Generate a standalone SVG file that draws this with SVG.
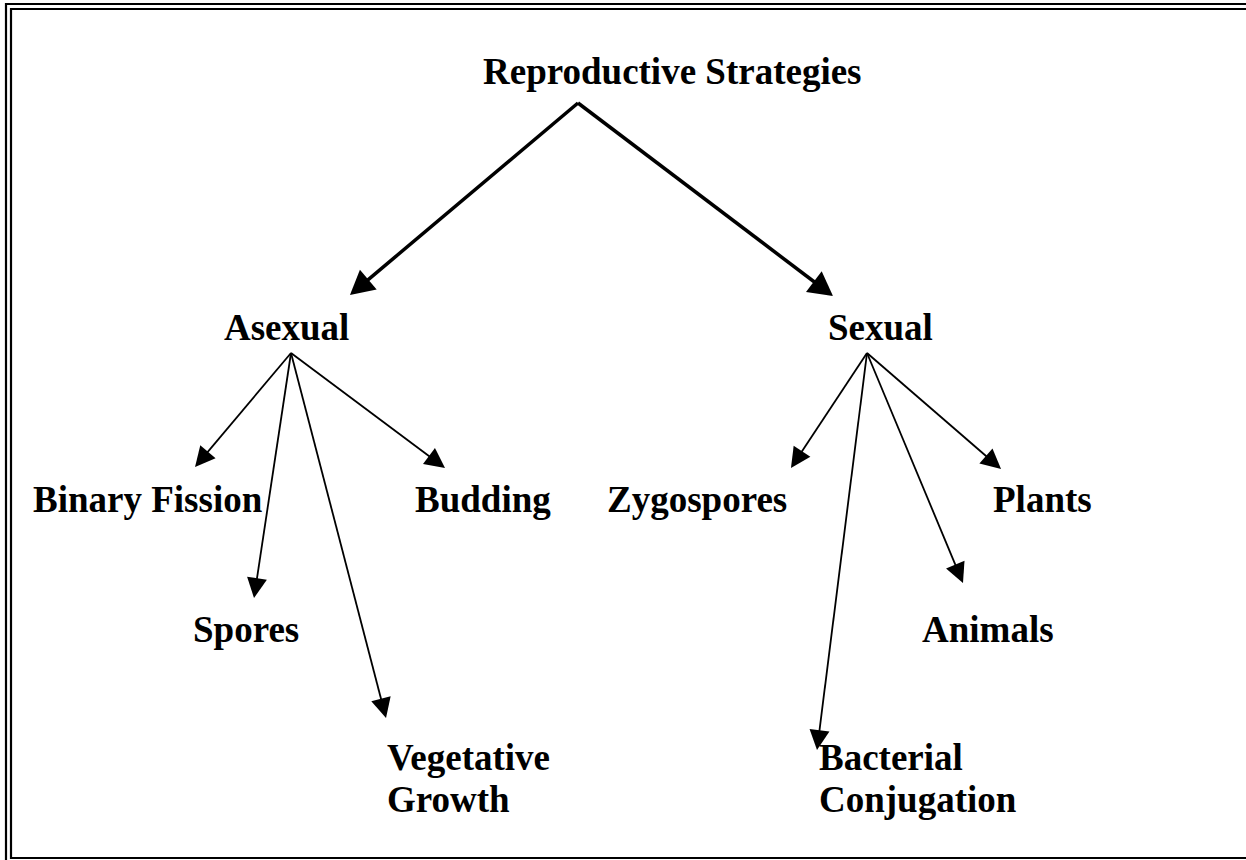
<svg xmlns="http://www.w3.org/2000/svg" width="1246" height="860" viewBox="0 0 1246 860">
<style>
text { font-family: "Liberation Serif", "Times New Roman", serif; font-weight: bold; font-size: 37px; fill: #000; }
.thick { stroke: #000; stroke-width: 3.5; fill: none; marker-end: url(#headL); }
.thin { stroke: #000; stroke-width: 1.8; fill: none; marker-end: url(#headS); }
.frame { stroke: #000; stroke-width: 2.2; fill: none; }
</style>
<defs>
<marker id="headL" markerUnits="userSpaceOnUse" markerWidth="26" markerHeight="26" refX="14" refY="13" orient="auto" overflow="visible">
<path d="M0,0 L24,13 L0,26 Z" fill="#000"/>
</marker>
<marker id="headS" markerUnits="userSpaceOnUse" markerWidth="20" markerHeight="20" refX="12" refY="10" orient="auto" overflow="visible">
<path d="M0,0 L20,10 L0,20 Z" fill="#000"/>
</marker>
</defs>
<rect width="1246" height="860" fill="#fff"/>
<g id="frame">
<path class="frame" d="M6,860 V4 H1246"/>
<path class="frame" d="M1246,858 H11 V9 H1246"/>
</g>
<g id="connectors">
<path class="thick" d="M578,103 L357.6,288.6"/>
<path class="thick" d="M578,103 L825,290"/>
<path class="thin" d="M291,353 L200.2,460.9"/>
<path class="thin" d="M291,353 L255.2,590.1"/>
<path class="thin" d="M291,353 L384,710.3"/>
<path class="thin" d="M291,353 L438.6,463.2"/>
<path class="thin" d="M867,353 L795.4,461.3"/>
<path class="thin" d="M867,353 L818,742.1"/>
<path class="thin" d="M867,353 L959.9,575.6"/>
<path class="thin" d="M867,353 L995,463.8"/>
</g>
<g id="root"><text x="483" y="84">Reproductive Strategies</text></g>
<g id="asexual"><text x="224" y="340">Asexual</text></g>
<g id="sexual"><text x="828" y="340">Sexual</text></g>
<g id="binary-fission"><text x="33" y="512">Binary Fission</text></g>
<g id="budding"><text x="415" y="512">Budding</text></g>
<g id="spores"><text x="193" y="642">Spores</text></g>
<g id="vegetative-growth"><text x="387" y="770">Vegetative</text><text x="387" y="812">Growth</text></g>
<g id="zygospores"><text x="607" y="512">Zygospores</text></g>
<g id="plants"><text x="993" y="512">Plants</text></g>
<g id="animals"><text x="922" y="642">Animals</text></g>
<g id="bacterial-conjugation"><text x="819" y="770">Bacterial</text><text x="819" y="812">Conjugation</text></g>
</svg>
